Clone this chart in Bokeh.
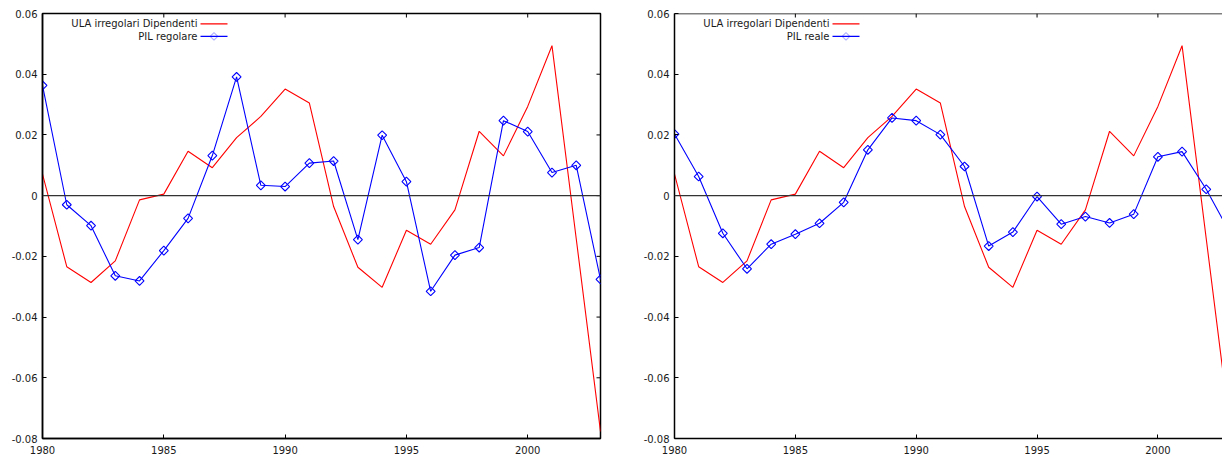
import numpy as np
from bokeh.plotting import figure
from bokeh.layouts import row
from bokeh.models import Range1d, LinearAxis, FixedTicker, Span, Label, Arrow, PolyAnnotation
from bokeh.embed import file_html
from bokeh.resources import INLINE

# ---------------- data ----------------
years = list(range(1980, 2004))
ula_dipendenti = [0.0071, -0.0234, -0.0286, -0.0215, -0.0014, 0.0005, 0.0146, 0.0092, 0.0191, 0.0261, 0.0351,
                  0.0305, -0.0036, -0.0236, -0.0302, -0.0114, -0.0160, -0.0047, 0.0212, 0.0131, 0.0294, 0.0494,
                  -0.0142, -0.0777]
pil_regolare = [0.0363, -0.0030, -0.0099, -0.0264, -0.0281, -0.0181, -0.0075, 0.0132, 0.0391, 0.0034, 0.0030,
                0.0107, 0.0114, -0.0145, 0.0199, 0.0046, -0.0315, -0.0196, -0.0171, 0.0247, 0.0211, 0.0076,
                0.0100, -0.0276]
pil_reale = [0.0203, 0.0063, -0.0124, -0.0241, -0.0160, -0.0127, -0.0091, -0.0022, 0.0151, 0.0256, 0.0247,
             0.0201, 0.0096, -0.0166, -0.0120, -0.0003, -0.0094, -0.0069, -0.0090, -0.0061, 0.0128, 0.0145,
             0.0021, -0.0125]

x_ticks = [1980, 1985, 1990, 1995, 2000]
y_ticks = [-0.08, -0.06, -0.04, -0.02, 0.0, 0.02, 0.04, 0.06]
y_tick_labels = ["-0.08", "-0.06", "-0.04", "-0.02", "0", "0.02", "0.04", "0.06"]

red_name = "ULA irregolari Dipendenti"
blue_names = ["PIL regolare", "PIL reale"]

# ---------------- style ----------------
FONT = "DejaVu Sans"
FS = "10px"
TXT = "#1a1a1a"
FH = 425
Y0, Y1 = -0.08, 0.06
TICK = 4


def style_axis(ax, ticks, overrides=None):
    ax.ticker = FixedTicker(ticks=ticks)
    ax.axis_line_color = "black"
    ax.axis_line_width = 1.5
    ax.major_tick_in = TICK
    ax.major_tick_out = 0
    ax.major_tick_line_color = "black"
    ax.major_tick_line_width = 1
    ax.minor_tick_line_color = None
    ax.major_label_text_font = FONT
    ax.major_label_text_font_size = FS
    ax.major_label_text_color = TXT
    if overrides:
        ax.major_label_overrides = overrides


def make_panel(blue_name, blue_vals, frame_w, px_per_year, min_left, min_right, boxed):
    x_end = 1980 + frame_w / px_per_year
    p = figure(frame_width=frame_w, frame_height=FH,
               x_range=Range1d(1980, x_end), y_range=Range1d(Y0, Y1),
               output_backend="svg", toolbar_location=None,
               x_axis_location=None, y_axis_location=None,
               min_border_left=min_left, min_border_right=min_right, min_border_top=13, min_border_bottom=0,
               outline_line_color="black" if boxed else None, outline_line_width=1.5, outline_line_alpha=1,
               background_fill_color="white", border_fill_color="white")
    p.grid.visible = False

    overrides = {t: l for t, l in zip(y_ticks, y_tick_labels)}
    left = LinearAxis()
    style_axis(left, y_ticks, overrides)
    left.major_label_standoff = 5
    p.add_layout(left, "left")
    bottom = LinearAxis()
    style_axis(bottom, x_ticks)
    bottom.major_label_standoff = 7
    p.add_layout(bottom, "below")

    dy = TICK * (Y1 - Y0) / FH
    dx = TICK / px_per_year
    # mirrored inward ticks on the top border
    p.segment(x0=x_ticks, y0=[Y1] * len(x_ticks), x1=x_ticks, y1=[Y1 - dy] * len(x_ticks),
              line_color="black", line_width=1)
    if boxed:
        # mirrored inward ticks on the right border
        p.segment(x0=[x_end] * len(y_ticks), y0=y_ticks, x1=[x_end - dx] * len(y_ticks), y1=y_ticks,
                  line_color="black", line_width=1)
    else:
        p.add_layout(Span(location=Y1, dimension="width", line_color="black", line_width=1.5))

    p.add_layout(Span(location=0, dimension="width", line_color="#333333", line_width=1.2))

    p.line(years, ula_dipendenti, line_color="#ff0000", line_width=1.1)
    p.line(years, blue_vals, line_color="#0000ff", line_width=1.1)
    p.scatter(years, blue_vals, marker="square", angle=np.pi / 4, size=6.3,
              line_color="#0000ff", line_width=1.1, fill_color=None)

    # gnuplot-style key: text first, sample after
    def X(px):
        return 1980 + px / px_per_year

    def Y(py):
        return Y1 - py * (Y1 - Y0) / FH

    entries = [(red_name, "#ff0000", False), (blue_name, "#0000ff", True)]
    for i, (name, col, mk) in enumerate(entries):
        py = 10.3 + i * 12.6
        yy = Y(py)
        p.add_layout(Label(x=X(155), y=yy, text=name, text_align="right", text_baseline="middle",
                           text_font=FONT, text_font_size=FS, text_color=TXT))
        p.add_layout(Arrow(end=None, x_start=X(158), y_start=yy, x_end=X(185), y_end=yy,
                           line_color=col, line_width=1.2))
        if mk:
            cx = 171.5
            p.add_layout(PolyAnnotation(xs=[X(cx - 3.8), X(cx), X(cx + 3.8), X(cx)],
                                        ys=[yy, Y(py - 3.8), yy, Y(py + 3.8)],
                                        fill_alpha=0, line_color=col, line_width=1.2))
    return p


p1 = make_panel(blue_names[0], pil_regolare, 558, 558 / 23.0, 42, 40, True)
p2 = make_panel(blue_names[1], pil_reale, 548, 24.17, 34, 0, False)

layout = row(p1, p2)
open("out.html", "w").write(file_html(layout, INLINE))
